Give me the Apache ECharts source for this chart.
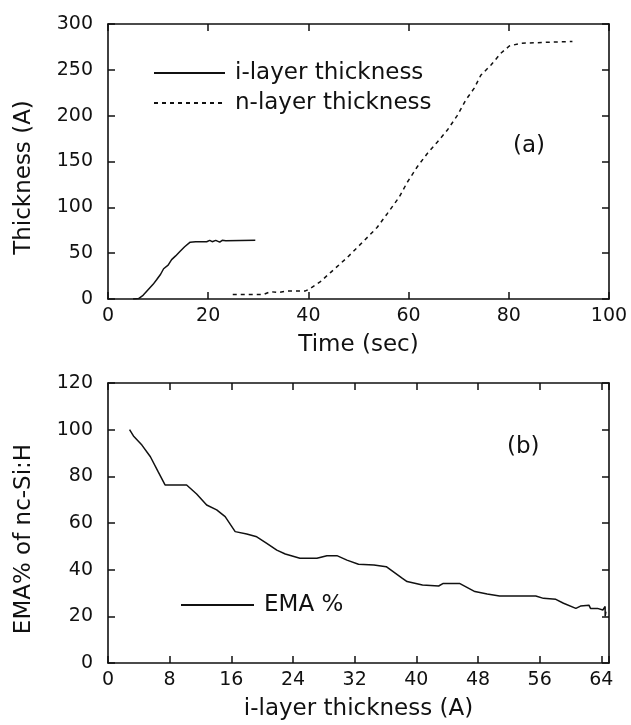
<!DOCTYPE html>
<html>
<head>
<meta charset="utf-8">
<script src="https://cdn.jsdelivr.net/npm/echarts@6/dist/echarts.min.js"></script>
<style>html,body{margin:0;padding:0;background:#fff;}#c{width:631px;height:725px;}</style>
</head>
<body>
<div id="c"></div>
<script>
// Panel (a): thickness vs time
const iLayerTime  = [5.0, 6.1, 7.0, 8.0, 9.0, 9.7, 10.5, 11.1, 12.0, 12.7, 13.5, 14.4, 15.3, 16.4, 17.5, 19.7, 20.3, 20.8, 21.5, 22.3, 22.8, 23.5, 29.4];
const iLayerThick = [0, 0.5, 4, 10, 16, 21, 27, 33, 37, 43, 47, 52, 57, 62, 62.5, 62.5, 64, 62.5, 64, 62, 64, 63.5, 64];
const nLayerTime  = [24.9, 31.1, 32.4, 34.0, 35.7, 39.4, 40.1, 42.4, 44.4, 47.7, 51.1, 53.7, 55.7, 58.1, 59.7, 61.7, 63.7, 65.7, 67.7, 69.7, 71.4, 73.1, 74.4, 76.4, 78.4, 80.1, 82.4, 92.7];
const nLayerThick = [5, 5, 8, 7, 8.8, 8.8, 10.6, 19, 28.8, 45, 63.5, 78, 92.8, 111, 127, 144, 158.5, 171, 184, 200, 217, 230, 244, 255, 268, 276, 279, 281];
// Panel (b): EMA % vs i-layer thickness
const emaThick = [2.8, 3.3, 4.4, 5.5, 6.5, 7.4, 10.2, 11.5, 12.8, 14.1, 15.2, 16.5, 18.0, 19.3, 20.6, 21.9, 23.0, 24.9, 27.1, 28.4, 29.7, 31.0, 32.5, 34.5, 36.1, 38.2, 38.8, 40.8, 42.9, 43.5, 45.6, 47.6, 49.2, 50.8, 55.5, 56.5, 58.1, 59.1, 60.7, 61.3, 62.4, 62.6, 63.5, 64.2, 64.5, 64.5, 64.6];
const emaPct   = [100, 97.3, 93.4, 88.4, 82, 76.3, 76.3, 72.4, 67.7, 65.6, 62.7, 56.3, 55.3, 54.1, 51.3, 48.4, 46.7, 44.9, 44.9, 46, 46, 44.1, 42.3, 42, 41.3, 36.3, 34.9, 33.4, 33, 34.1, 34.1, 30.6, 29.6, 28.7, 28.7, 27.7, 27.3, 25.6, 23.4, 24.4, 24.8, 23.4, 23.4, 22.7, 24.2, 20, 22];

const seriesNames = ['i-layer thickness', 'n-layer thickness', 'EMA %'];
const axisTitles = { timeX: 'Time (sec)', thickY: 'Thickness (A)', iLayerX: 'i-layer thickness (A)', emaY: 'EMA% of nc-Si:H' };
const panelLabels = ['(a)', '(b)'];

const zip = (a, b) => a.map((v, i) => [v, b[i]]);
const FONT = 'DejaVu Sans';
const INK = '#111';

const axLine = { show: true, onZero: false, lineStyle: { color: INK, width: 1.6 } };
const tick = { show: true, inside: true, length: 7, lineStyle: { color: INK, width: 1.5 } };
const lbl = { color: INK, fontFamily: FONT, fontSize: 19 };
const nameStyle = { color: INK, fontFamily: FONT, fontSize: 23 };

function xAx(grid, min, max, interval, name, pos) {
  const main = pos === 'bottom';
  return {
    type: 'value', gridIndex: grid, min: min, max: max, interval: interval, position: pos,
    axisLine: axLine, axisTick: tick, splitLine: { show: false },
    axisLabel: main ? Object.assign({}, lbl, { margin: 8, formatter: v => (v % interval === 0 ? String(v) : '') }) : { show: false },
    name: main ? name : '', nameLocation: 'middle', nameGap: 35, nameTextStyle: nameStyle
  };
}
function yAx(grid, min, max, interval, name, pos) {
  const main = pos === 'left';
  return {
    type: 'value', gridIndex: grid, min: min, max: max, interval: interval, position: pos,
    axisLine: axLine, axisTick: tick, splitLine: { show: false },
    axisLabel: main ? Object.assign({}, lbl, { margin: 15, padding: [0, 0, 8, 0] }) : { show: false },
    name: main ? name : '', nameLocation: 'middle', nameGap: 72, nameRotate: 90,
    nameTextStyle: Object.assign({}, nameStyle, { padding: [0, 32, 0, 0] })
  };
}

const legendText = { color: INK, fontFamily: FONT, fontSize: 23, lineHeight: 24, padding: [0, 0, 0, 5] };

const option = {
  backgroundColor: '#ffffff',
  animation: false,
  grid: [
    { left: 108, right: 22, top: 24, height: 275 },
    { left: 108, right: 22, top: 383, height: 280 }
  ],
  xAxis: [
    xAx(0, 0, 100, 20, axisTitles.timeX, 'bottom'),
    xAx(0, 0, 100, 20, '', 'top'),
    xAx(1, 0, 65, 8, axisTitles.iLayerX, 'bottom'),
    xAx(1, 0, 65, 8, '', 'top')
  ],
  yAxis: [
    yAx(0, 0, 300, 50, axisTitles.thickY, 'left'),
    yAx(0, 0, 300, 50, '', 'right'),
    yAx(1, 0, 120, 20, axisTitles.emaY, 'left'),
    yAx(1, 0, 120, 20, '', 'right')
  ],
  legend: [
    {
      data: [seriesNames[0], seriesNames[1]], orient: 'vertical', left: 148, top: 56,
      itemWidth: 71, itemHeight: 14, itemGap: 6,
      itemStyle: { opacity: 0, borderWidth: 0 },
      textStyle: legendText, selectedMode: false
    },
    {
      data: [seriesNames[2]], orient: 'vertical', left: 175, top: 588,
      itemWidth: 73, itemHeight: 14,
      itemStyle: { opacity: 0, borderWidth: 0 },
      textStyle: legendText, selectedMode: false
    }
  ],
  title: [
    { text: panelLabels[0], left: 508, top: 130, textStyle: { color: INK, fontFamily: FONT, fontSize: 23, fontWeight: 'normal' } },
    { text: panelLabels[1], left: 502, top: 431, textStyle: { color: INK, fontFamily: FONT, fontSize: 23, fontWeight: 'normal' } }
  ],
  series: [
    { name: seriesNames[0], type: 'line', xAxisIndex: 0, yAxisIndex: 0, symbol: 'none', data: zip(iLayerTime, iLayerThick),
      lineStyle: { color: INK, width: 1.5, type: 'solid' }, itemStyle: { color: INK } },
    { name: seriesNames[1], type: 'line', xAxisIndex: 0, yAxisIndex: 0, symbol: 'none', data: zip(nLayerTime, nLayerThick),
      lineStyle: { color: INK, width: 1.5, type: [4, 4] }, itemStyle: { color: INK } },
    { name: seriesNames[2], type: 'line', xAxisIndex: 2, yAxisIndex: 2, symbol: 'none', data: zip(emaThick, emaPct),
      lineStyle: { color: INK, width: 1.5, type: 'solid' }, itemStyle: { color: INK } }
  ]
};

const chart = echarts.init(document.getElementById('c'), null, { renderer: 'canvas' });
chart.setOption(option);
</script>
</body>
</html>
